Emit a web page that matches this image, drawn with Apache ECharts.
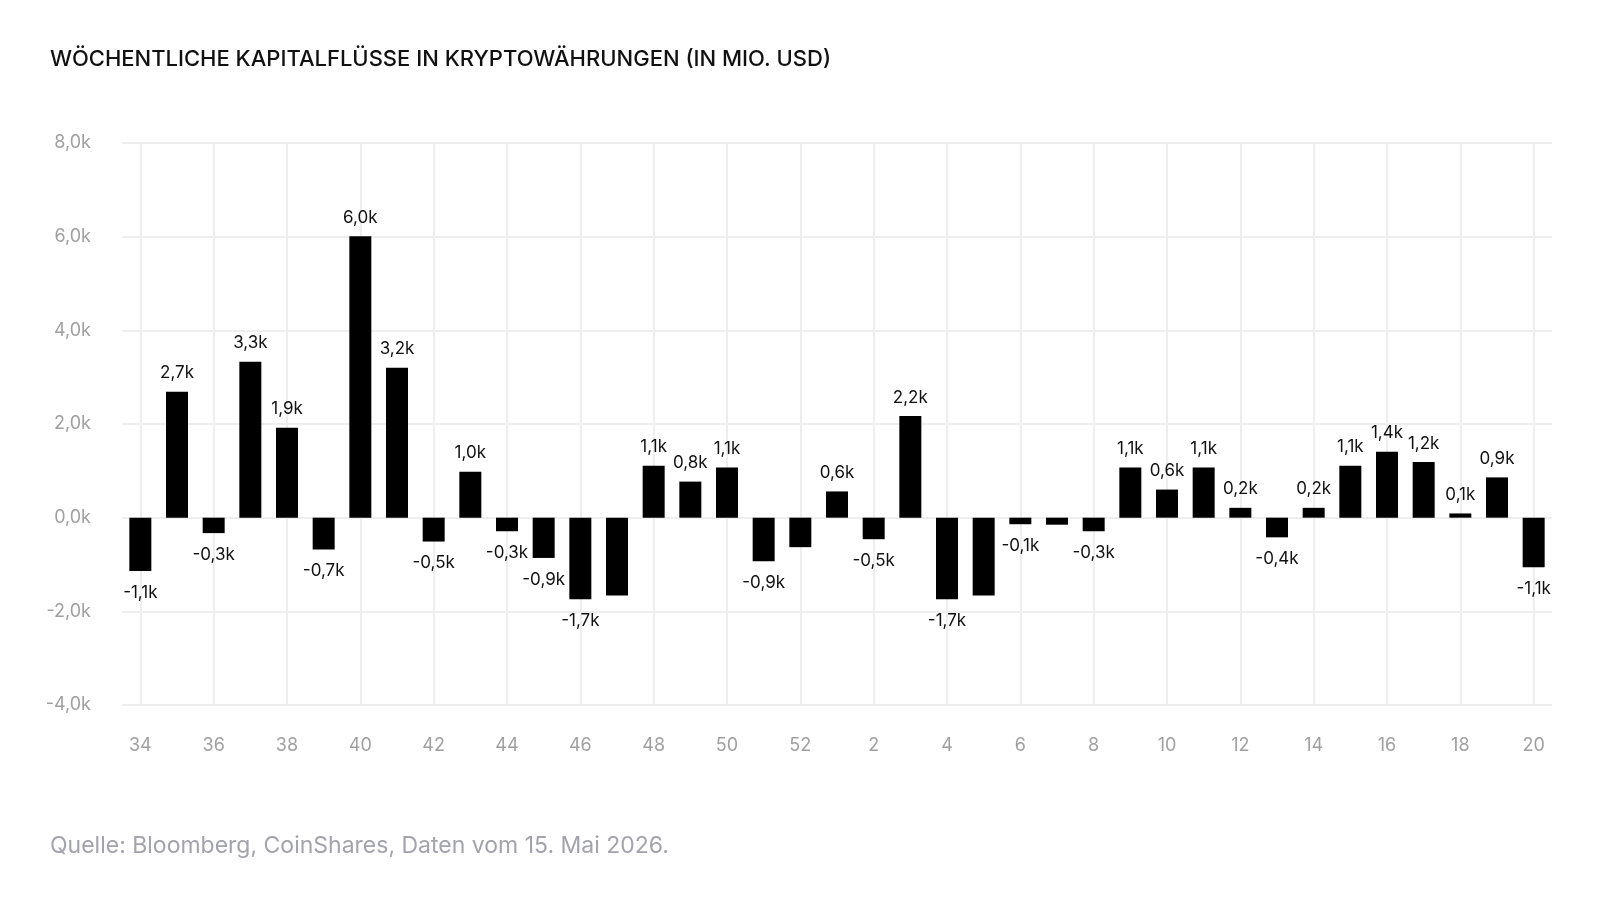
<!DOCTYPE html>
<html>
<head>
<meta charset="utf-8">
<script src="https://cdn.jsdelivr.net/npm/echarts@6/dist/echarts.min.js"></script>
<style>
html,body{margin:0;padding:0;background:#fff;}
#chart{width:1600px;height:900px;}
</style>
</head>
<body>
<div id="chart"></div>
<script>
// Kalenderwochen
const weeks = ['34','35','36','37','38','39','40','41','42','43','44','45','46','47','48','49','50','51','52',
  '1','2','3','4','5','6','7','8','9','10','11','12','13','14','15','16','17','18','19','20'];
// Wöchentliche Kapitalflüsse (Mio. USD)
const flows = [-1140, 2690, -330, 3330, 1920, -680, 6010, 3200, -510, 980, -290, -860, -1740, -1660, 1110, 770, 1070, -930, -630,
  560, -460, 2170, -1740, -1660, -140, -150, -290, 1070, 600, 1070, 210, -420, 210, 1110, 1410, 1190, 90, 860, -1060];
// Wochen ohne Wertbeschriftung
const unlabeledWeeks = ['47','52','5','7'];
const yTicks = {min: -4000, max: 8000, interval: 2000};

const fmtK = v => (v / 1000).toFixed(1).replace('.', ',') + 'k';

const chart = echarts.init(document.getElementById('chart'));
const barData = flows.map((v, i) => ({
  value: v,
  label: {
    show: unlabeledWeeks.indexOf(weeks[i]) < 0,
    position: v >= 0 ? 'top' : 'bottom',
    distance: v >= 0 ? 10 : 13
  }
}));

chart.setOption({
  animation: false,
  backgroundColor: '#ffffff',
  title: [
    {
      text: 'WÖCHENTLICHE KAPITALFLÜSSE IN KRYPTOWÄHRUNGEN (IN MIO. USD)',
      left: 45, top: 43,
      textStyle: {fontFamily: 'Inter', fontSize: 22, fontWeight: 500, color: '#111111'}
    },
    {
      text: 'Quelle: Bloomberg, CoinShares, Daten vom 15. Mai 2026.',
      left: 45, top: 830,
      textStyle: {fontFamily: 'Inter', fontSize: 23, fontWeight: 400, color: '#a3a3ab'}
    }
  ],
  grid: {left: 122, right: 48, top: 143, bottom: 195, containLabel: false},
  xAxis: {
    type: 'category',
    data: weeks,
    boundaryGap: true,
    axisLine: {show: false},
    axisTick: {show: false, alignWithLabel: true, interval: 1},
    axisLabel: {interval: 1, color: '#a0a0a0', fontFamily: 'Inter', fontSize: 18, margin: 32},
    splitLine: {show: true, interval: 1, alignWithLabel: true, lineStyle: {color: '#eeeeee', width: 2}}
  },
  yAxis: {
    type: 'value',
    min: yTicks.min, max: yTicks.max, interval: yTicks.interval,
    axisLine: {show: false},
    axisTick: {show: false},
    axisLabel: {color: '#a0a0a0', fontFamily: 'Inter', fontSize: 18, margin: 31, formatter: fmtK},
    splitLine: {show: true, lineStyle: {color: '#eeeeee', width: 2}}
  },
  series: [{
    type: 'bar',
    data: barData,
    barWidth: 22,
    itemStyle: {color: '#000000'},
    label: {
      color: '#111111', fontFamily: 'Inter', fontSize: 17,
      formatter: p => fmtK(p.value)
    }
  }]
});
</script>
</body>
</html>
